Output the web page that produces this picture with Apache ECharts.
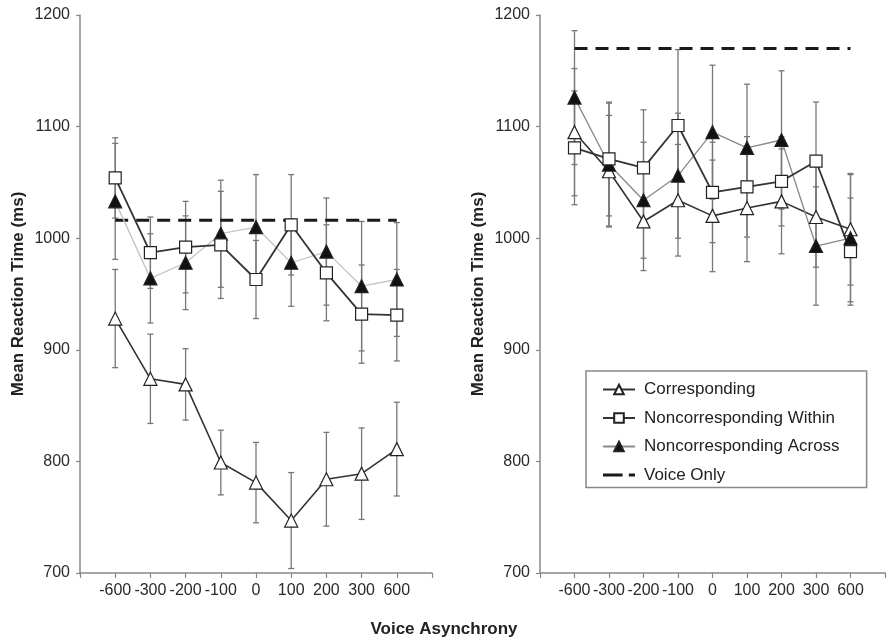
<!DOCTYPE html>
<html>
<head>
<meta charset="utf-8">
<script src="https://cdn.jsdelivr.net/npm/echarts@6/dist/echarts.min.js"></script>
<style>
html,body{margin:0;padding:0;background:#fff;}
#chart{width:888px;height:641px;}
</style>
</head>
<body>
<div id="chart"></div>
<script>
const categories = ['-600','-300','-200','-100','0','100','200','300','600'];
const yTicks = [700, 800, 900, 1000, 1100, 1200];

// Left panel
const corrL = [928, 874, 869, 799, 781, 747, 784, 789, 811];
const corrErrL = [44, 40, 32, 29, 36, 43, 42, 41, 42];
const withinL = [1054, 987, 992, 994, 963, 1012, 969, 932, 931];
const withinErrL = [36, 32, 41, 48, 35, 45, 43, 44, 41];
const acrossL = [1033, 964, 978, 1004, 1010, 978, 988, 957, 963];
const acrossErrL = [52, 40, 42, 48, 47, 39, 48, 58, 51];
const voiceL = 1016;

// Right panel
const corrR = [1095, 1060, 1015, 1034, 1020, 1027, 1033, 1019, 1008];
const corrErrR = [57, 50, 44, 50, 50, 48, 47, 45, 50];
const withinR = [1081, 1071, 1063, 1101, 1041, 1046, 1051, 1069, 988];
const withinErrR = [51, 51, 52, 68, 45, 45, 40, 53, 48];
const acrossR = [1126, 1066, 1034, 1056, 1095, 1081, 1088, 993, 1000];
const acrossErrR = [60, 55, 52, 56, 60, 57, 62, 53, 57];
const voiceR = 1170;

const names = ['Corresponding', 'Noncorresponding Within', 'Noncorresponding Across', 'Voice Only'];

const chart = echarts.init(document.getElementById('chart'));
const font = 'Liberation Sans, Arial, sans-serif';

function pts(vals) { return vals.map((v, i) => [i + 1, v]); }
function errData(vals, errs) { return vals.map((v, i) => [i + 1, v - errs[i], v + errs[i]]); }

function errSeries(vals, errs, idx) {
  return {
    type: 'custom', xAxisIndex: idx, yAxisIndex: idx, z: 1, silent: true,
    data: errData(vals, errs),
    renderItem: function (params, api) {
      const x = api.value(0);
      const lo = api.coord([x, api.value(1)]);
      const hi = api.coord([x, api.value(2)]);
      const cw = 3;
      const st = { stroke: '#777', lineWidth: 1.3 };
      return {
        type: 'group',
        children: [
          { type: 'line', shape: { x1: lo[0], y1: lo[1], x2: hi[0], y2: hi[1] }, style: st },
          { type: 'line', shape: { x1: lo[0] - cw, y1: lo[1], x2: lo[0] + cw, y2: lo[1] }, style: st },
          { type: 'line', shape: { x1: hi[0] - cw, y1: hi[1], x2: hi[0] + cw, y2: hi[1] }, style: st }
        ]
      };
    }
  };
}

function lineSeries(name, vals, idx, symbol, fill, lineColor, lw, size) {
  return {
    name: name, type: 'line', xAxisIndex: idx, yAxisIndex: idx, z: 3,
    data: pts(vals), symbol: symbol, symbolSize: size,
    lineStyle: { color: lineColor, width: lw },
    itemStyle: { color: fill, borderColor: '#222', borderWidth: 1.2 },
    emphasis: { disabled: true }
  };
}

function voiceSeries(v, idx) {
  return {
    name: 'Voice Only', type: 'line', xAxisIndex: idx, yAxisIndex: idx, z: 2,
    data: [[1, v], [9, v]], symbol: 'none',
    lineStyle: { color: '#1a1a1a', width: 3, type: [13, 8] },
    itemStyle: { color: '#1a1a1a' }
  };
}

function xAxisCfg(idx) {
  return {
    type: 'value', gridIndex: idx, min: 0, max: 10, interval: 1,
    axisLine: { show: true, lineStyle: { color: '#888', width: 1.5 } },
    axisTick: { show: true, length: 5, lineStyle: { color: '#888', width: 1.2 } },
    axisLabel: {
      margin: 10, color: '#2a2a2a', fontSize: 16, fontFamily: font,
      formatter: function (v) { return (v >= 1 && v <= 9) ? categories[v - 1] : ''; }
    },
    splitLine: { show: false }
  };
}

function yAxisCfg(idx) {
  return {
    type: 'value', gridIndex: idx, min: yTicks[0], max: yTicks[yTicks.length - 1], interval: 100,
    name: 'Mean Reaction Time (ms)', nameLocation: 'middle', nameGap: 53,
    nameTextStyle: { fontSize: 17, fontWeight: 'bold', color: '#222', fontFamily: font },
    axisLine: { show: true, lineStyle: { color: '#888', width: 1.5 } },
    axisTick: { show: true, length: 4, lineStyle: { color: '#888', width: 1.2 } },
    axisLabel: { margin: 10, color: '#2a2a2a', fontSize: 16, fontFamily: font,
      formatter: function (v) { return String(v); } },
    splitLine: { show: false }
  };
}

const option = {
  animation: false,
  backgroundColor: '#fff',
  title: {
    text: 'Voice Asynchrony', left: 'center', top: 616,
    textStyle: { fontSize: 17, fontWeight: 'bold', color: '#222', fontFamily: font }
  },
  grid: [
    { left: 80, top: 15, width: 352, height: 558 },
    { left: 540, top: 15, width: 352, height: 558 }
  ],
  xAxis: [xAxisCfg(0), xAxisCfg(1)],
  yAxis: [yAxisCfg(0), yAxisCfg(1)],
  legend: {
    data: [names[0], names[1], names[2],
      { name: names[3], icon: 'path://M0,0 L19,0 L19,3 L0,3 Z M25,0 L31,0 L31,3 L25,3 Z', itemStyle: { color: '#1a1a1a' } }],
    orient: 'vertical', left: 586, top: 371,
    itemWidth: 32, itemHeight: 12, itemGap: 11.5,
    padding: [10, 27, 4, 16],
    borderColor: '#888', borderWidth: 1.5, borderRadius: 0,
    textStyle: { fontSize: 17, color: '#222', fontFamily: font, padding: [0, 0, 0, 4] },
    selectedMode: false
  },
  series: [
    errSeries(corrR, corrErrR, 1),
    errSeries(withinR, withinErrR, 1),
    errSeries(acrossR, acrossErrR, 1),
    lineSeries('Corresponding', corrR, 1, 'triangle', '#fff', '#333', 1.6, 13),
    lineSeries('Noncorresponding Across', acrossR, 1, 'triangle', '#111', '#888', 1.3, 13),
    lineSeries('Noncorresponding Within', withinR, 1, 'rect', '#fff', '#333', 1.8, 12),
    voiceSeries(voiceR, 1),
    errSeries(corrL, corrErrL, 0),
    errSeries(withinL, withinErrL, 0),
    errSeries(acrossL, acrossErrL, 0),
    lineSeries('Corresponding', corrL, 0, 'triangle', '#fff', '#333', 1.6, 13),
    lineSeries('Noncorresponding Across', acrossL, 0, 'triangle', '#111', '#c4c4c4', 1.3, 13),
    lineSeries('Noncorresponding Within', withinL, 0, 'rect', '#fff', '#333', 1.8, 12),
    voiceSeries(voiceL, 0)
  ]
};
chart.setOption(option);
</script>
</body>
</html>
